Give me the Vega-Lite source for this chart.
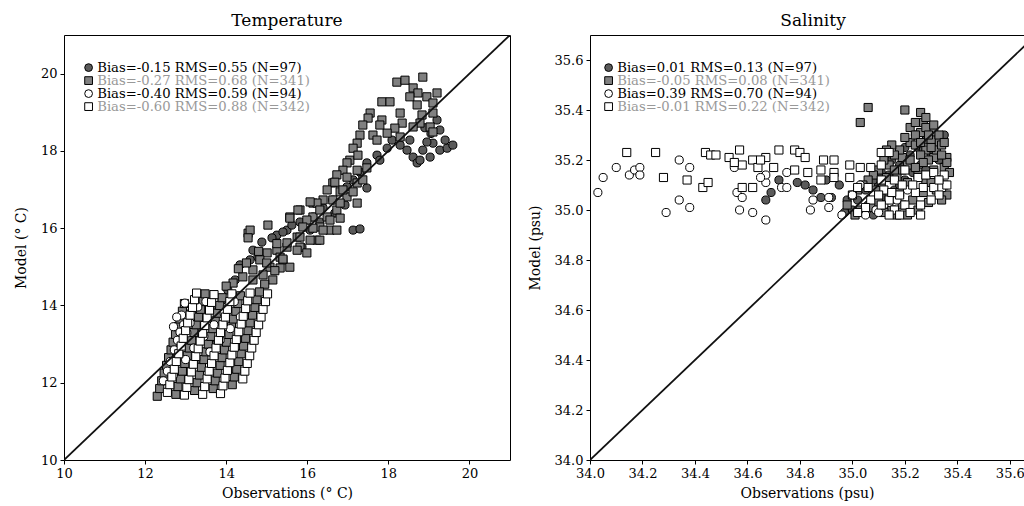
{
"$schema":"https://vega.github.io/schema/vega-lite/v6.json",
"padding":{"left":13,"top":11,"right":0,"bottom":0},
"background":"white",
"config":{"font":"DejaVu Serif","view":{"stroke":"black","strokeWidth":1},
"axis":{"domain":false,"grid":false,"tickColor":"black","tickSize":4,"labelColor":"black","labelFontSize":13,"titleFontSize":14,"titleFontWeight":"normal","titleColor":"black","labelPadding":3,"titlePadding":6,"labelFlush":false,"labelOverlap":false},
"axisY":{"titlePadding":12},
"legend":{"orient":"none","padding":0,"rowPadding":-6,"labelFontSize":13.2,"labelOffset":2,"labelLimit":0,"symbolSize":60,"symbolStrokeWidth":1,"labelFont":"DejaVu Serif"},
"title":{"fontSize":17,"fontWeight":"normal","color":"black","offset":5}},
"datasets":{
"lt":[{"x":10,"y":10},{"x":21,"y":21}],
"ls":[{"x":34,"y":34},{"x":35.7,"y":35.7}],
"temp":[
{"s":"a","x":18.61,"y":17.84},{"s":"a","x":18.71,"y":17.69},{"s":"a","x":19.03,"y":17.84},{"s":"a","x":19.27,"y":18.02},{"s":"a","x":19.45,"y":18.07},{"s":"a","x":19.59,"y":18.15},{"s":"a","x":19.10,"y":18.20},{"s":"a","x":18.95,"y":18.23},{"s":"a","x":19.20,"y":18.80},{"s":"a","x":19.27,"y":18.54},{"s":"a","x":18.09,"y":18.28},{"s":"a","x":18.29,"y":18.15},{"s":"a","x":18.46,"y":18.02},{"s":"a","x":17.97,"y":18.07},{"s":"a","x":17.72,"y":17.89},{"s":"a","x":17.47,"y":17.69},{"s":"a","x":17.30,"y":17.45},{"s":"a","x":17.13,"y":17.25},{"s":"a","x":16.98,"y":17.07},{"s":"a","x":16.63,"y":16.73},{"s":"a","x":16.39,"y":16.52},{"s":"a","x":16.14,"y":16.29},{"s":"a","x":15.82,"y":16.16},{"s":"a","x":15.50,"y":15.95},{"s":"a","x":15.25,"y":15.82},{"s":"a","x":18.78,"y":17.76},{"s":"a","x":18.85,"y":18.02},{"s":"a","x":19.40,"y":18.28},{"s":"a","x":18.53,"y":18.28},{"s":"a","x":17.79,"y":17.76},{"s":"a","x":15.40,"y":15.90},{"s":"a","x":14.88,"y":15.64},{"s":"a","x":15.13,"y":15.75},{"s":"a","x":14.66,"y":15.43},{"s":"a","x":14.78,"y":15.25},{"s":"a","x":17.13,"y":15.95},{"s":"a","x":17.30,"y":15.98},{"s":"a","x":14.34,"y":15.05},{"s":"a","x":14.59,"y":15.18},{"s":"a","x":15.62,"y":16.08},{"s":"a","x":15.87,"y":15.51},{"s":"a","x":17.47,"y":17.04},{"s":"a","x":16.07,"y":15.95},{"s":"a","x":16.31,"y":16.16},{"s":"a","x":16.68,"y":16.39},{"s":"a","x":16.93,"y":16.60},{"s":"a","x":14.22,"y":14.66},{"s":"a","x":14.04,"y":14.40},{"s":"a","x":13.90,"y":14.14},{"s":"a","x":13.72,"y":13.88},{"s":"a","x":13.48,"y":13.62},{"s":"a","x":13.23,"y":13.23},{"s":"a","x":12.98,"y":12.98},{"s":"a","x":12.74,"y":12.72},{"s":"a","x":12.61,"y":12.46},{"s":"a","x":12.86,"y":12.20},{"s":"a","x":13.35,"y":12.59},{"s":"a","x":13.72,"y":12.98},{"s":"a","x":18.90,"y":18.60},{"s":"a","x":19.05,"y":18.45},
{"s":"b","x":18.21,"y":19.78},{"s":"b","x":18.41,"y":19.83},{"s":"b","x":18.85,"y":19.91},{"s":"b","x":17.84,"y":19.27},{"s":"b","x":18.04,"y":19.27},{"s":"b","x":17.55,"y":18.98},{"s":"b","x":17.50,"y":18.85},{"s":"b","x":17.84,"y":18.80},{"s":"b","x":18.29,"y":18.98},{"s":"b","x":18.61,"y":19.63},{"s":"b","x":18.73,"y":19.50},{"s":"b","x":18.53,"y":19.40},{"s":"b","x":18.95,"y":19.40},{"s":"b","x":19.20,"y":19.50},{"s":"b","x":19.10,"y":19.24},{"s":"b","x":18.71,"y":19.19},{"s":"b","x":18.83,"y":18.93},{"s":"b","x":19.10,"y":18.98},{"s":"b","x":19.03,"y":18.62},{"s":"b","x":19.10,"y":18.49},{"s":"b","x":18.78,"y":18.72},{"s":"b","x":18.61,"y":18.62},{"s":"b","x":18.34,"y":18.72},{"s":"b","x":18.29,"y":18.36},{"s":"b","x":17.37,"y":18.67},{"s":"b","x":17.30,"y":18.41},{"s":"b","x":17.62,"y":18.41},{"s":"b","x":17.23,"y":18.20},{"s":"b","x":17.13,"y":18.07},{"s":"b","x":17.05,"y":17.76},{"s":"b","x":16.98,"y":17.69},{"s":"b","x":17.23,"y":17.50},{"s":"b","x":16.88,"y":17.50},{"s":"b","x":16.73,"y":17.38},{"s":"b","x":16.63,"y":17.17},{"s":"b","x":16.49,"y":16.99},{"s":"b","x":16.81,"y":16.94},{"s":"b","x":16.98,"y":16.81},{"s":"b","x":16.39,"y":16.73},{"s":"b","x":16.14,"y":16.65},{"s":"b","x":15.82,"y":16.47},{"s":"b","x":15.57,"y":16.29},{"s":"b","x":16.14,"y":16.29},{"s":"b","x":15.99,"y":16.21},{"s":"b","x":16.49,"y":16.29},{"s":"b","x":16.73,"y":16.47},{"s":"b","x":15.03,"y":16.08},{"s":"b","x":14.54,"y":15.87},{"s":"b","x":14.59,"y":15.95},{"s":"b","x":16.31,"y":16.03},{"s":"b","x":16.56,"y":15.95},{"s":"b","x":16.24,"y":15.69},{"s":"b","x":15.75,"y":15.77},{"s":"b","x":15.50,"y":15.51},{"s":"b","x":15.25,"y":15.43},{"s":"b","x":15.82,"y":15.51},{"s":"b","x":15.99,"y":15.36},{"s":"b","x":15.33,"y":15.25},{"s":"b","x":15.01,"y":15.36},{"s":"b","x":14.83,"y":15.18},{"s":"b","x":17.25,"y":17.89},{"s":"b","x":17.47,"y":17.56},{"s":"b","x":16.98,"y":17.32},{"s":"b","x":16.68,"y":17.19},{"s":"b","x":17.23,"y":17.17},{"s":"b","x":17.37,"y":17.25},{"s":"b","x":16.88,"y":16.99},{"s":"b","x":17.13,"y":16.94},{"s":"b","x":16.24,"y":16.65},{"s":"b","x":16.63,"y":16.73},{"s":"b","x":16.81,"y":16.65},{"s":"b","x":17.23,"y":16.65},{"s":"b","x":15.77,"y":16.47},{"s":"b","x":16.07,"y":16.68},{"s":"b","x":16.31,"y":16.47},{"s":"b","x":16.56,"y":16.21},{"s":"b","x":16.81,"y":16.26},{"s":"b","x":15.57,"y":16.26},{"s":"b","x":15.89,"y":16.03},{"s":"b","x":16.14,"y":16.00},{"s":"b","x":16.39,"y":15.95},{"s":"b","x":16.73,"y":15.95},{"s":"b","x":15.82,"y":15.77},{"s":"b","x":16.07,"y":15.69},{"s":"b","x":16.31,"y":15.69},{"s":"b","x":15.50,"y":15.62},{"s":"b","x":15.75,"y":15.43},{"s":"b","x":15.40,"y":15.18},{"s":"b","x":15.08,"y":14.99},{"s":"b","x":15.33,"y":14.97},{"s":"b","x":15.57,"y":14.99},{"s":"b","x":14.66,"y":14.92},{"s":"b","x":14.91,"y":14.79},{"s":"b","x":14.41,"y":14.74},{"s":"b","x":14.66,"y":14.66},{"s":"b","x":15.15,"y":14.66},{"s":"b","x":14.17,"y":14.58},{"s":"b","x":14.54,"y":15.75},{"s":"b","x":18.16,"y":18.59},{"s":"b","x":17.97,"y":18.46},{"s":"b","x":17.72,"y":18.28},{"s":"b","x":17.79,"y":18.67},{"s":"b","x":14.00,"y":14.50},{"s":"b","x":14.30,"y":14.95},{"s":"b","x":14.50,"y":15.10},{"s":"b","x":14.80,"y":15.40},{"s":"b","x":15.00,"y":15.10},{"s":"b","x":15.20,"y":14.90},{"s":"b","x":15.40,"y":15.20},{"s":"b","x":14.95,"y":14.55},{"s":"b","x":15.25,"y":15.60},
{"s":"b","x":12.30,"y":11.65},{"s":"b","x":12.36,"y":11.85},{"s":"b","x":12.41,"y":12.05},{"s":"b","x":12.47,"y":12.25},{"s":"b","x":12.53,"y":12.45},{"s":"b","x":12.58,"y":12.65},{"s":"b","x":12.64,"y":12.85},{"s":"b","x":12.69,"y":13.05},{"s":"b","x":12.75,"y":13.25},{"s":"b","x":12.81,"y":13.45},{"s":"b","x":12.86,"y":13.65},{"s":"b","x":12.92,"y":13.85},{"s":"b","x":12.97,"y":14.05},
{"s":"b","x":12.76,"y":11.70},{"s":"b","x":12.81,"y":11.90},{"s":"b","x":12.87,"y":12.10},{"s":"b","x":12.92,"y":12.30},{"s":"b","x":12.98,"y":12.50},{"s":"b","x":13.04,"y":12.70},{"s":"b","x":13.09,"y":12.90},{"s":"b","x":13.15,"y":13.10},{"s":"b","x":13.20,"y":13.30},{"s":"b","x":13.26,"y":13.50},{"s":"b","x":13.32,"y":13.70},{"s":"b","x":13.37,"y":13.90},{"s":"b","x":13.43,"y":14.10},{"s":"b","x":13.48,"y":14.30},
{"s":"b","x":13.22,"y":11.80},{"s":"b","x":13.28,"y":12.00},{"s":"b","x":13.34,"y":12.20},{"s":"b","x":13.39,"y":12.40},{"s":"b","x":13.45,"y":12.60},{"s":"b","x":13.50,"y":12.80},{"s":"b","x":13.56,"y":13.00},{"s":"b","x":13.62,"y":13.20},{"s":"b","x":13.67,"y":13.40},{"s":"b","x":13.73,"y":13.60},{"s":"b","x":13.78,"y":13.80},{"s":"b","x":13.84,"y":14.00},{"s":"b","x":13.90,"y":14.20},
{"s":"b","x":13.68,"y":11.85},{"s":"b","x":13.73,"y":12.05},{"s":"b","x":13.79,"y":12.25},{"s":"b","x":13.85,"y":12.45},{"s":"b","x":13.90,"y":12.65},{"s":"b","x":13.96,"y":12.85},{"s":"b","x":14.01,"y":13.05},{"s":"b","x":14.07,"y":13.25},{"s":"b","x":14.13,"y":13.45},{"s":"b","x":14.18,"y":13.65},{"s":"b","x":14.24,"y":13.85},{"s":"b","x":14.29,"y":14.05},{"s":"b","x":14.35,"y":14.25},
{"s":"b","x":14.15,"y":11.95},{"s":"b","x":14.20,"y":12.15},{"s":"b","x":14.26,"y":12.35},{"s":"b","x":14.31,"y":12.55},{"s":"b","x":14.37,"y":12.75},{"s":"b","x":14.43,"y":12.95},{"s":"b","x":14.48,"y":13.15},{"s":"b","x":14.54,"y":13.35},{"s":"b","x":14.59,"y":13.55},{"s":"b","x":14.65,"y":13.75},{"s":"b","x":14.71,"y":13.95},{"s":"b","x":14.76,"y":14.15},{"s":"b","x":14.82,"y":14.35},
{"s":"c","x":12.98,"y":14.06},{"s":"c","x":13.30,"y":13.96},{"s":"c","x":12.86,"y":13.31},{"s":"c","x":13.11,"y":13.55},{"s":"c","x":13.03,"y":13.29},{"s":"c","x":12.80,"y":13.10},{"s":"c","x":12.72,"y":12.85},{"s":"c","x":12.62,"y":12.55},{"s":"c","x":12.90,"y":13.75},{"s":"c","x":13.15,"y":13.85},{"s":"c","x":12.95,"y":13.50},{"s":"c","x":12.55,"y":12.30},{"s":"c","x":12.45,"y":12.05},{"s":"c","x":12.70,"y":12.20},{"s":"c","x":13.00,"y":12.60},{"s":"c","x":13.20,"y":12.90},{"s":"c","x":13.45,"y":13.20},{"s":"c","x":13.70,"y":13.50},{"s":"c","x":13.95,"y":13.80},{"s":"c","x":14.20,"y":14.10},{"s":"c","x":13.60,"y":12.80},{"s":"c","x":13.85,"y":13.10},{"s":"c","x":14.10,"y":13.40},{"s":"c","x":14.35,"y":13.70},{"s":"c","x":12.78,"y":13.70},{"s":"c","x":13.22,"y":14.12},{"s":"c","x":13.50,"y":14.10},{"s":"c","x":12.70,"y":13.45},
{"s":"d","x":12.55,"y":11.75},{"s":"d","x":12.61,"y":11.95},{"s":"d","x":12.66,"y":12.15},{"s":"d","x":12.72,"y":12.35},{"s":"d","x":12.77,"y":12.55},{"s":"d","x":12.83,"y":12.75},{"s":"d","x":12.89,"y":12.95},{"s":"d","x":12.94,"y":13.15},{"s":"d","x":13.00,"y":13.35},{"s":"d","x":13.05,"y":13.55},{"s":"d","x":13.11,"y":13.75},{"s":"d","x":13.17,"y":13.95},{"s":"d","x":13.22,"y":14.15},{"s":"d","x":13.27,"y":14.32},
{"s":"d","x":12.97,"y":11.68},{"s":"d","x":13.03,"y":11.88},{"s":"d","x":13.08,"y":12.08},{"s":"d","x":13.14,"y":12.28},{"s":"d","x":13.19,"y":12.48},{"s":"d","x":13.25,"y":12.68},{"s":"d","x":13.31,"y":12.88},{"s":"d","x":13.36,"y":13.08},{"s":"d","x":13.42,"y":13.28},{"s":"d","x":13.47,"y":13.48},{"s":"d","x":13.53,"y":13.68},{"s":"d","x":13.59,"y":13.88},{"s":"d","x":13.64,"y":14.08},{"s":"d","x":13.70,"y":14.28},
{"s":"d","x":13.42,"y":11.70},{"s":"d","x":13.47,"y":11.90},{"s":"d","x":13.53,"y":12.10},{"s":"d","x":13.58,"y":12.30},{"s":"d","x":13.64,"y":12.50},{"s":"d","x":13.70,"y":12.70},{"s":"d","x":13.75,"y":12.90},{"s":"d","x":13.81,"y":13.10},{"s":"d","x":13.86,"y":13.30},{"s":"d","x":13.92,"y":13.50},{"s":"d","x":13.98,"y":13.70},{"s":"d","x":14.03,"y":13.90},{"s":"d","x":14.09,"y":14.10},{"s":"d","x":14.14,"y":14.30},
{"s":"d","x":13.86,"y":11.72},{"s":"d","x":13.92,"y":11.92},{"s":"d","x":13.97,"y":12.12},{"s":"d","x":14.03,"y":12.32},{"s":"d","x":14.09,"y":12.52},{"s":"d","x":14.14,"y":12.72},{"s":"d","x":14.20,"y":12.92},{"s":"d","x":14.25,"y":13.12},{"s":"d","x":14.31,"y":13.32},{"s":"d","x":14.37,"y":13.52},{"s":"d","x":14.42,"y":13.72},{"s":"d","x":14.48,"y":13.92},{"s":"d","x":14.53,"y":14.12},{"s":"d","x":14.59,"y":14.32},
{"s":"d","x":14.41,"y":12.10},{"s":"d","x":14.46,"y":12.30},{"s":"d","x":14.52,"y":12.50},{"s":"d","x":14.58,"y":12.70},{"s":"d","x":14.63,"y":12.90},{"s":"d","x":14.69,"y":13.10},{"s":"d","x":14.74,"y":13.30},{"s":"d","x":14.80,"y":13.50},{"s":"d","x":14.86,"y":13.70},{"s":"d","x":14.91,"y":13.90},{"s":"d","x":14.97,"y":14.10},{"s":"d","x":15.02,"y":14.30}
],
"sal":[
{"s":"a","x":34.69,"y":35.07},{"s":"a","x":34.67,"y":35.04},{"s":"a","x":34.79,"y":35.11},{"s":"a","x":34.88,"y":35.05},{"s":"a","x":34.92,"y":35.05},{"s":"a","x":35.02,"y":35.04},{"s":"a","x":35.06,"y":35.02},{"s":"a","x":35.10,"y":35.10},{"s":"a","x":35.14,"y":35.14},{"s":"a","x":35.18,"y":35.18},{"s":"a","x":35.22,"y":35.22},{"s":"a","x":35.25,"y":35.25},{"s":"a","x":35.28,"y":35.28},{"s":"a","x":35.30,"y":35.22},{"s":"a","x":35.26,"y":35.18},{"s":"a","x":35.20,"y":35.12},{"s":"a","x":35.16,"y":35.08},{"s":"a","x":35.12,"y":35.05},{"s":"a","x":35.24,"y":35.30},{"s":"a","x":35.28,"y":35.16},{"s":"a","x":35.32,"y":35.26},{"s":"a","x":35.33,"y":35.20},{"s":"a","x":35.20,"y":35.25},{"s":"a","x":35.15,"y":35.20},{"s":"a","x":35.11,"y":35.15},{"s":"a","x":35.08,"y":35.12},{"s":"a","x":35.05,"y":35.08},{"s":"a","x":34.98,"y":35.04},{"s":"a","x":35.00,"y":35.00},{"s":"a","x":34.95,"y":35.10},{"s":"a","x":34.90,"y":35.12},{"s":"a","x":35.35,"y":35.30},{"s":"a","x":35.30,"y":35.32},{"s":"a","x":35.27,"y":35.24},{"s":"a","x":35.23,"y":35.15},{"s":"a","x":35.18,"y":35.10},{"s":"a","x":34.85,"y":35.08},{"s":"a","x":34.82,"y":35.10},{"s":"a","x":34.72,"y":35.12},{"s":"a","x":34.97,"y":34.99},{"s":"a","x":35.08,"y":34.98},{"s":"a","x":35.13,"y":35.00},
{"s":"b","x":35.06,"y":35.41},{"s":"b","x":35.20,"y":35.40},{"s":"b","x":35.03,"y":35.35},{"s":"b","x":35.26,"y":35.39},{"s":"b","x":35.27,"y":35.35},{"s":"b","x":35.26,"y":35.31},{"s":"b","x":35.31,"y":35.31},{"s":"b","x":35.33,"y":35.27},{"s":"b","x":35.36,"y":35.21},{"s":"b","x":35.35,"y":35.17},{"s":"b","x":35.31,"y":35.21},{"s":"b","x":35.28,"y":35.24},{"s":"b","x":35.22,"y":35.27},{"s":"b","x":35.19,"y":35.21},{"s":"b","x":35.22,"y":35.33},{"s":"b","x":35.24,"y":35.30},{"s":"b","x":35.28,"y":35.33},{"s":"b","x":35.30,"y":35.28},{"s":"b","x":35.32,"y":35.24},{"s":"b","x":35.34,"y":35.26},{"s":"b","x":35.29,"y":35.20},{"s":"b","x":35.26,"y":35.22},{"s":"b","x":35.24,"y":35.26},{"s":"b","x":35.20,"y":35.29},{"s":"b","x":35.18,"y":35.24},{"s":"b","x":35.16,"y":35.22},{"s":"b","x":35.14,"y":35.18},{"s":"b","x":35.12,"y":35.20},{"s":"b","x":35.10,"y":35.16},{"s":"b","x":35.08,"y":35.14},{"s":"b","x":35.06,"y":35.12},{"s":"b","x":35.04,"y":35.10},{"s":"b","x":35.02,"y":35.08},{"s":"b","x":35.00,"y":35.06},{"s":"b","x":34.98,"y":35.02},{"s":"b","x":35.15,"y":35.26},{"s":"b","x":35.13,"y":35.24},{"s":"b","x":35.21,"y":35.18},{"s":"b","x":35.25,"y":35.14},{"s":"b","x":35.28,"y":35.12},{"s":"b","x":35.31,"y":35.16},{"s":"b","x":35.33,"y":35.12},{"s":"b","x":35.35,"y":35.10},{"s":"b","x":35.37,"y":35.15},{"s":"b","x":35.36,"y":35.19},{"s":"b","x":35.34,"y":35.22},{"s":"b","x":35.30,"y":35.11},{"s":"b","x":35.27,"y":35.07},{"s":"b","x":35.23,"y":35.04},{"s":"b","x":35.19,"y":35.02},{"s":"b","x":35.15,"y":35.00},{"s":"b","x":35.12,"y":34.99},{"s":"b","x":35.17,"y":35.13},{"s":"b","x":35.19,"y":35.16},{"s":"b","x":35.22,"y":35.20},{"s":"b","x":35.26,"y":35.27},{"s":"b","x":35.29,"y":35.30},{"s":"b","x":35.31,"y":35.34},{"s":"b","x":35.28,"y":35.37},{"s":"b","x":35.24,"y":35.35},{"s":"b","x":35.33,"y":35.30},{"s":"b","x":35.35,"y":35.27},{"s":"b","x":35.30,"y":35.25},{"s":"b","x":35.27,"y":35.19},{"s":"b","x":35.24,"y":35.17},{"s":"b","x":35.21,"y":35.11},{"s":"b","x":35.18,"y":35.07},{"s":"b","x":35.14,"y":35.05},{"s":"b","x":35.10,"y":35.03},{"s":"b","x":35.07,"y":35.01},{"s":"b","x":35.03,"y":35.00},{"s":"b","x":35.01,"y":34.98},{"s":"b","x":35.09,"y":35.08},{"s":"b","x":35.11,"y":35.11},{"s":"b","x":35.13,"y":35.13},{"s":"b","x":35.16,"y":35.16},{"s":"b","x":35.32,"y":35.08},{"s":"b","x":35.36,"y":35.06},{"s":"b","x":35.34,"y":35.04},{"s":"b","x":35.29,"y":35.03},{"s":"b","x":35.25,"y":35.00},{"s":"b","x":35.21,"y":34.98},{"s":"b","x":35.17,"y":34.98},
{"s":"c","x":34.03,"y":35.07},{"s":"c","x":34.05,"y":35.13},{"s":"c","x":34.10,"y":35.17},{"s":"c","x":34.15,"y":35.14},{"s":"c","x":34.17,"y":35.16},{"s":"c","x":34.19,"y":35.17},{"s":"c","x":34.19,"y":35.14},{"s":"c","x":34.29,"y":34.99},{"s":"c","x":34.34,"y":35.20},{"s":"c","x":34.38,"y":35.17},{"s":"c","x":34.34,"y":35.04},{"s":"c","x":34.38,"y":35.01},{"s":"c","x":34.55,"y":35.17},{"s":"c","x":34.56,"y":35.07},{"s":"c","x":34.58,"y":35.05},{"s":"c","x":34.57,"y":35.00},{"s":"c","x":34.62,"y":34.99},{"s":"c","x":34.67,"y":34.96},{"s":"c","x":34.67,"y":35.11},{"s":"c","x":34.67,"y":35.14},{"s":"c","x":34.65,"y":35.13},{"s":"c","x":34.73,"y":35.09},{"s":"c","x":34.75,"y":35.15},{"s":"c","x":34.75,"y":35.09},{"s":"c","x":34.85,"y":35.04},{"s":"c","x":34.84,"y":35.00},{"s":"c","x":34.91,"y":35.01},{"s":"c","x":34.91,"y":35.05},{"s":"c","x":34.96,"y":34.98},{"s":"c","x":35.05,"y":34.98},{"s":"c","x":35.09,"y":35.00},{"s":"c","x":35.14,"y":35.03},{"s":"c","x":35.00,"y":35.06},{"s":"c","x":35.03,"y":35.10},{"s":"c","x":35.08,"y":35.06},{"s":"c","x":35.12,"y":35.02},{"s":"c","x":35.17,"y":35.04},{"s":"c","x":35.21,"y":35.08},{"s":"c","x":35.10,"y":34.99},
{"s":"d","x":34.14,"y":35.23},{"s":"d","x":34.25,"y":35.23},{"s":"d","x":34.28,"y":35.13},{"s":"d","x":34.37,"y":35.12},{"s":"d","x":34.43,"y":35.09},{"s":"d","x":34.45,"y":35.11},{"s":"d","x":34.44,"y":35.23},{"s":"d","x":34.46,"y":35.22},{"s":"d","x":34.48,"y":35.22},{"s":"d","x":34.53,"y":35.21},{"s":"d","x":34.57,"y":35.24},{"s":"d","x":34.58,"y":35.18},{"s":"d","x":34.55,"y":35.19},{"s":"d","x":34.62,"y":35.20},{"s":"d","x":34.64,"y":35.17},{"s":"d","x":34.67,"y":35.21},{"s":"d","x":34.70,"y":35.17},{"s":"d","x":34.72,"y":35.24},{"s":"d","x":34.58,"y":35.09},{"s":"d","x":34.62,"y":35.09},{"s":"d","x":34.65,"y":35.20},{"s":"d","x":34.78,"y":35.24},{"s":"d","x":34.80,"y":35.23},{"s":"d","x":34.82,"y":35.21},{"s":"d","x":34.89,"y":35.20},{"s":"d","x":34.93,"y":35.20},{"s":"d","x":34.99,"y":35.18},{"s":"d","x":35.03,"y":35.17},{"s":"d","x":35.07,"y":35.17},{"s":"d","x":35.11,"y":35.23},{"s":"d","x":35.14,"y":35.23},{"s":"d","x":34.78,"y":35.16},{"s":"d","x":34.83,"y":35.15},{"s":"d","x":34.88,"y":35.16},{"s":"d","x":34.93,"y":35.15},{"s":"d","x":34.88,"y":35.12},{"s":"d","x":34.93,"y":35.13},{"s":"d","x":34.99,"y":35.13},{"s":"d","x":35.02,"y":35.09},{"s":"d","x":35.06,"y":35.09},{"s":"d","x":35.11,"y":35.12},{"s":"d","x":35.25,"y":35.13},{"s":"d","x":35.28,"y":35.14},{"s":"d","x":35.31,"y":35.15},{"s":"d","x":35.34,"y":35.09},{"s":"d","x":35.31,"y":35.09},{"s":"d","x":35.27,"y":35.09},{"s":"d","x":35.24,"y":35.07},{"s":"d","x":35.14,"y":35.04},{"s":"d","x":35.18,"y":35.06},{"s":"d","x":35.20,"y":35.02},{"s":"d","x":35.22,"y":34.99},{"s":"d","x":35.16,"y":35.00},{"s":"d","x":35.11,"y":35.02},{"s":"d","x":35.07,"y":35.04},{"s":"d","x":35.12,"y":35.08},{"s":"d","x":35.16,"y":35.12},{"s":"d","x":35.20,"y":35.16},{"s":"d","x":35.35,"y":35.14},{"s":"d","x":35.36,"y":35.10},{"s":"d","x":35.33,"y":35.06},{"s":"d","x":35.30,"y":35.04},{"s":"d","x":35.26,"y":35.02},{"s":"d","x":35.23,"y":35.10},{"s":"d","x":35.19,"y":35.10},{"s":"d","x":35.15,"y":35.07},{"s":"d","x":35.10,"y":35.06},{"s":"d","x":35.05,"y":35.01},{"s":"d","x":35.02,"y":34.99},{"s":"d","x":35.14,"y":34.98},{"s":"d","x":35.18,"y":34.98},{"s":"d","x":35.26,"y":34.98},{"s":"d","x":35.33,"y":35.12},{"s":"d","x":35.11,"y":35.18}
]},
"hconcat":[
{"width":446,"height":425,
"title":{"text":"Temperature"},
"layer":[
{"data":{"name":"temp"},"mark":{"type":"point","filled":true,"strokeWidth":1,"opacity":1,"size":66},
"encoding":{
"x":{"field":"x","type":"quantitative","scale":{"domain":[10,21],"nice":false,"zero":false},"axis":{"title":"Observations (° C)","values":[10,12,14,16,18,20]}},
"y":{"field":"y","type":"quantitative","scale":{"domain":[10,21],"nice":false,"zero":false},"axis":{"title":"Model (° C)","values":[10,12,14,16,18,20]}},
"shape":{"field":"s","type":"nominal","scale":{"domain":["a","b","c","d"],"range":["circle","square","circle","square"]},"legend":{"title":null,"legendX":18,"legendY":26,"rowPadding":-6,"labelExpr":"datum.value == 'a' ? 'Bias=-0.15 RMS=0.55 (N=97)' : datum.value == 'b' ? 'Bias=-0.27 RMS=0.68 (N=341)' : datum.value == 'c' ? 'Bias=-0.40 RMS=0.59 (N=94)' : 'Bias=-0.60 RMS=0.88 (N=342)'","labelColor":{"expr":"datum.value == 'b' || datum.value == 'd' ? '#999999' : 'black'"}}},
"fill":{"field":"s","type":"nominal","scale":{"domain":["a","b","c","d"],"range":["#5a5a5a","#808080","#ffffff","#ffffff"]},"legend":{"title":null,"legendX":18,"legendY":26,"rowPadding":-6,"labelExpr":"datum.value == 'a' ? 'Bias=-0.15 RMS=0.55 (N=97)' : datum.value == 'b' ? 'Bias=-0.27 RMS=0.68 (N=341)' : datum.value == 'c' ? 'Bias=-0.40 RMS=0.59 (N=94)' : 'Bias=-0.60 RMS=0.88 (N=342)'","labelColor":{"expr":"datum.value == 'b' || datum.value == 'd' ? '#999999' : 'black'"}}},
"stroke":{"field":"s","type":"nominal","scale":{"domain":["a","b","c","d"],"range":["#000000","#000000","#000000","#000000"]},"legend":{"title":null,"legendX":18,"legendY":26,"rowPadding":-6,"labelExpr":"datum.value == 'a' ? 'Bias=-0.15 RMS=0.55 (N=97)' : datum.value == 'b' ? 'Bias=-0.27 RMS=0.68 (N=341)' : datum.value == 'c' ? 'Bias=-0.40 RMS=0.59 (N=94)' : 'Bias=-0.60 RMS=0.88 (N=342)'","labelColor":{"expr":"datum.value == 'b' || datum.value == 'd' ? '#999999' : 'black'"}}}
}},
{"data":{"name":"lt"},"mark":{"type":"line","color":"#111111","strokeWidth":1.8,"clip":true},
"encoding":{"x":{"field":"x","type":"quantitative"},"y":{"field":"y","type":"quantitative"}}}
]},
{"width":434,"height":425,
"title":{"text":"Salinity","dx":6},
"layer":[
{"data":{"name":"sal"},"mark":{"type":"point","filled":true,"strokeWidth":1,"opacity":1,"size":66},
"encoding":{
"x":{"field":"x","type":"quantitative","scale":{"domain":[34,35.654],"nice":false,"zero":false},"axis":{"title":"Observations (psu)","values":[34.0,34.2,34.4,34.6,34.8,35.0,35.2,35.4,35.6],"format":".1f"}},
"y":{"field":"y","type":"quantitative","scale":{"domain":[34,35.7],"nice":false,"zero":false},"axis":{"title":"Model (psu)","values":[34.0,34.2,34.4,34.6,34.8,35.0,35.2,35.4,35.6],"format":".1f"}},
"shape":{"field":"s","type":"nominal","scale":{"domain":["a","b","c","d"],"range":["circle","square","circle","square"]},"legend":{"title":null,"legendX":12,"legendY":26,"rowPadding":-6,"labelExpr":"datum.value == 'a' ? 'Bias=0.01 RMS=0.13 (N=97)' : datum.value == 'b' ? 'Bias=-0.05 RMS=0.08 (N=341)' : datum.value == 'c' ? 'Bias=0.39 RMS=0.70 (N=94)' : 'Bias=-0.01 RMS=0.22 (N=342)'","labelColor":{"expr":"datum.value == 'b' || datum.value == 'd' ? '#999999' : 'black'"}}},
"fill":{"field":"s","type":"nominal","scale":{"domain":["a","b","c","d"],"range":["#5a5a5a","#808080","#ffffff","#ffffff"]},"legend":{"title":null,"legendX":12,"legendY":26,"rowPadding":-6,"labelExpr":"datum.value == 'a' ? 'Bias=0.01 RMS=0.13 (N=97)' : datum.value == 'b' ? 'Bias=-0.05 RMS=0.08 (N=341)' : datum.value == 'c' ? 'Bias=0.39 RMS=0.70 (N=94)' : 'Bias=-0.01 RMS=0.22 (N=342)'","labelColor":{"expr":"datum.value == 'b' || datum.value == 'd' ? '#999999' : 'black'"}}},
"stroke":{"field":"s","type":"nominal","scale":{"domain":["a","b","c","d"],"range":["#000000","#000000","#000000","#000000"]},"legend":{"title":null,"legendX":12,"legendY":26,"rowPadding":-6,"labelExpr":"datum.value == 'a' ? 'Bias=0.01 RMS=0.13 (N=97)' : datum.value == 'b' ? 'Bias=-0.05 RMS=0.08 (N=341)' : datum.value == 'c' ? 'Bias=0.39 RMS=0.70 (N=94)' : 'Bias=-0.01 RMS=0.22 (N=342)'","labelColor":{"expr":"datum.value == 'b' || datum.value == 'd' ? '#999999' : 'black'"}}}
}},
{"data":{"name":"ls"},"mark":{"type":"line","color":"#111111","strokeWidth":1.8,"clip":true},
"encoding":{"x":{"field":"x","type":"quantitative"},"y":{"field":"y","type":"quantitative"}}}
]}
],
"spacing":80,
"bounds":"flush",
"resolve":{"scale":{"shape":"independent","fill":"independent","stroke":"independent"},"legend":{"shape":"independent","fill":"independent","stroke":"independent"}}
}
